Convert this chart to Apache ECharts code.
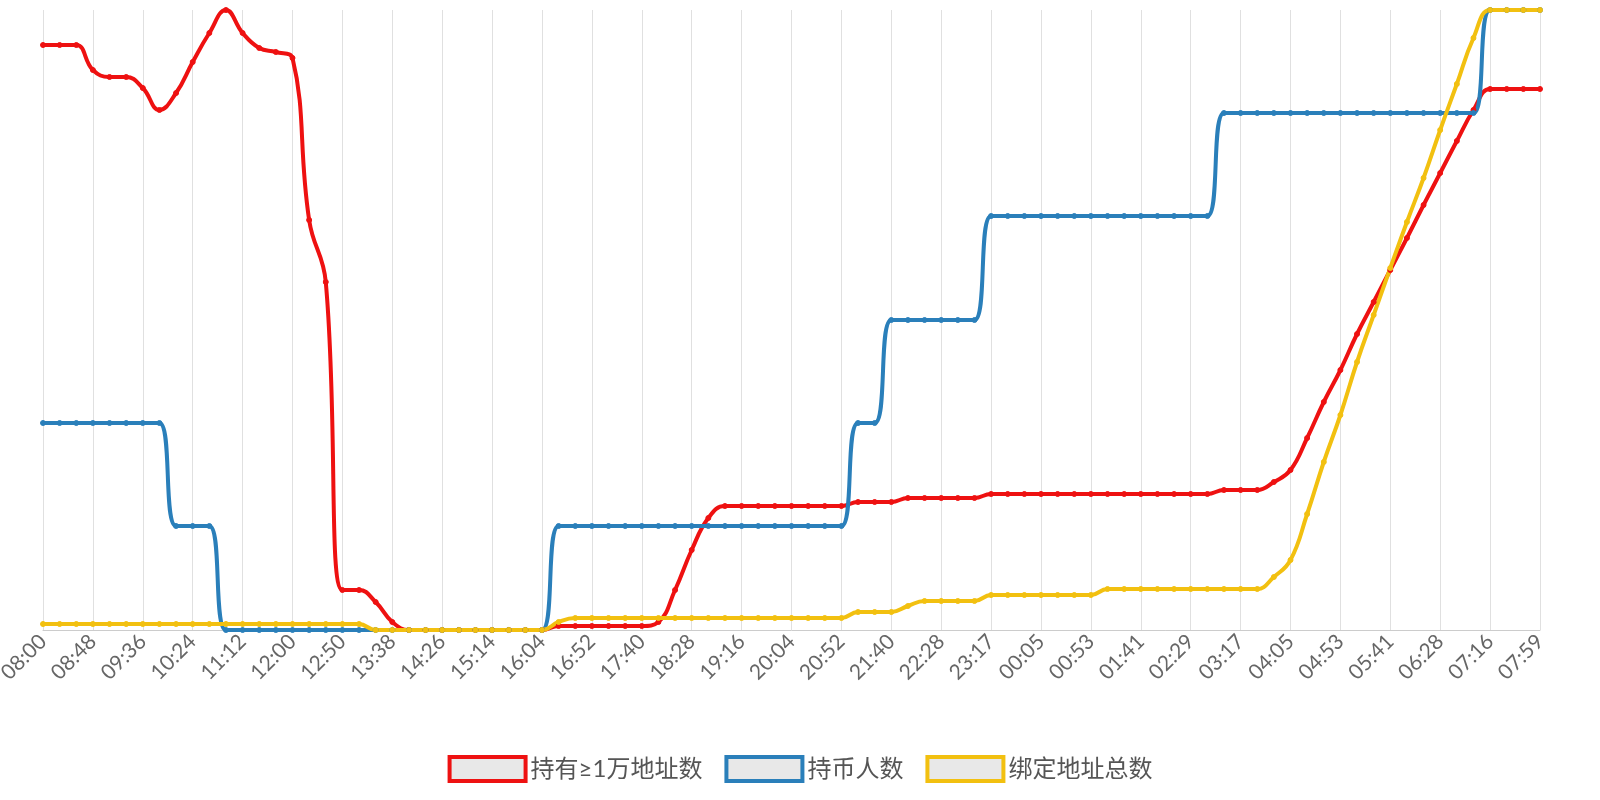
<!DOCTYPE html>
<html><head><meta charset="utf-8">
<script src="https://cdn.jsdelivr.net/npm/echarts@6/dist/echarts.min.js"></script>
<style>html,body{margin:0;padding:0;background:#fff}#c{width:1600px;height:800px}</style>
</head><body><div id="c"></div>
<script>
const tickLabels = ["08:00","08:48","09:36","10:24","11:12","12:00","12:50","13:38","14:26","15:14","16:04","16:52","17:40","18:28","19:16","20:04","20:52","21:40","22:28","23:17","00:05","00:53","01:41","02:29","03:17","04:05","04:53","05:41","06:28","07:16","07:59"];
const seriesNames = ["持有≥1万地址数","持币人数","绑定地址总数"];
const redValues = [585,585,585,560,553,553,542,520,537,568,597,620,597,582,578,572,410,348,40,40,28,8,0,0,0,0,0,0,0,0,0,4,4,4,4,4,4,8,40,80,112,124,124,124,124,124,124,124,124,128,128,128,132,132,132,132,132,136,136,136,136,136,136,136,136,136,136,136,136,136,136,140,140,140,148,160,192,228,260,296,328,360,392,425,457,489,520,541,541,541,541];
const blueValues = [207,207,207,207,207,207,207,207,104,104,104,0,0,0,0,0,0,0,0,0,0,0,0,0,0,0,0,0,0,0,0,104,104,104,104,104,104,104,104,104,104,104,104,104,104,104,104,104,104,207,207,310,310,310,310,310,310,414,414,414,414,414,414,414,414,414,414,414,414,414,414,517,517,517,517,517,517,517,517,517,517,517,517,517,517,517,517,620,620,620,620];
const yellowValues = [6,6,6,6,6,6,6,6,6,6,6,6,6,6,6,6,6,6,6,6,0,0,0,0,0,0,0,0,0,0,0,8,12,12,12,12,12,12,12,12,12,12,12,12,12,12,12,12,12,18,18,18,24,29,29,29,29,35,35,35,35,35,35,35,41,41,41,41,41,41,41,41,41,41,53,70,116,168,215,268,315,362,408,452,500,546,592,620,620,620,620];
const colors = ["#ee1111","#2a7fba","#f2c010"];

function toMin(s){const [h,m]=s.split(':').map(Number);return h*60+m;}
function fmt(m){m=((m%1440)+1440)%1440;return String(Math.floor(m/60)).padStart(2,'0')+':'+String(m%60).padStart(2,'0');}
const categories=[];
tickLabels.forEach((t,k)=>{categories.push(t);if(k<tickLabels.length-1){const a=toMin(t);categories.push(fmt(a+16));categories.push(fmt(a+32));}});

const chart=echarts.init(document.getElementById('c'));
const mk=(name,data,color)=>({name,type:'line',data,smooth:0.45,symbol:'circle',symbolSize:5,
  lineStyle:{width:4,color},itemStyle:{color,borderColor:color},emphasis:{disabled:true}});
chart.setOption({
  animation:false,
  grid:{left:43,right:60,top:10,bottom:170,containLabel:false,outerBoundsMode:'none'},
  legend:{bottom:12,itemWidth:76,itemHeight:24,itemGap:22,
    textStyle:{fontSize:24,color:'#555',fontFamily:'Lato, "Noto Sans CJK SC", sans-serif'},
    data:seriesNames.map((n,i)=>({name:n,icon:'rect',itemStyle:{color:'#e8e8e8',borderColor:colors[i],borderWidth:4}}))},
  xAxis:{type:'category',boundaryGap:false,data:categories,
    axisLine:{lineStyle:{color:'#ccc'}},axisTick:{show:false},
    axisLabel:{interval:2,rotate:45,fontSize:21,color:'#666',fontFamily:'Lato, sans-serif',margin:8},
    splitLine:{show:true,interval:2,lineStyle:{color:'#e0e0e0',width:1}}},
  yAxis:{type:'value',min:0,max:620,show:false,splitLine:{show:false}},
  series:[mk(seriesNames[0],redValues,colors[0]),mk(seriesNames[1],blueValues,colors[1]),mk(seriesNames[2],yellowValues,colors[2])]
});
</script></body></html>
